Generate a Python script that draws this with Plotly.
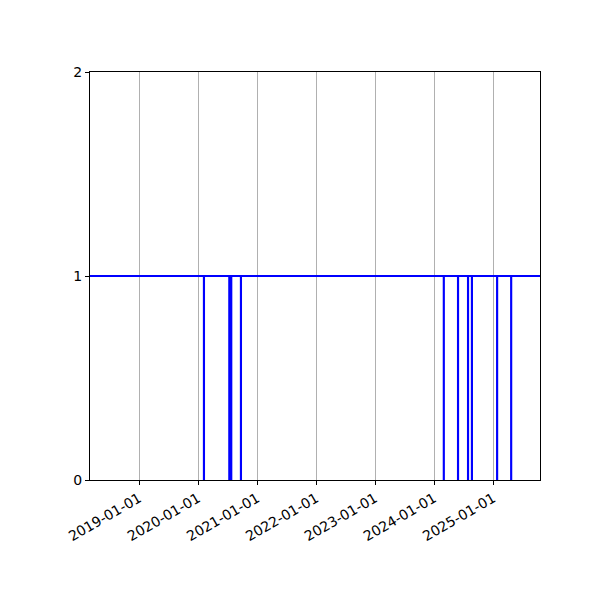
import plotly.graph_objects as go

# status series (1 = up, 0 = down), step-wise
dates = ['2018-03-03',
         '2020-02-06', '2020-02-07',
         '2020-07-12', '2020-07-13',
         '2020-07-24', '2020-07-25',
         '2020-09-22', '2020-09-23',
         '2024-03-01', '2024-03-02',
         '2024-05-28', '2024-05-29',
         '2024-07-29', '2024-07-30',
         '2024-08-22', '2024-08-23',
         '2025-01-25', '2025-01-26',
         '2025-04-22', '2025-04-23',
         '2025-10-18']
status = [1,
          0, 1,
          0, 1,
          0, 1,
          0, 1,
          0, 1,
          0, 1,
          0, 1,
          0, 1,
          0, 1,
          0, 1,
          1]

tick_dates = ['2019-01-01', '2020-01-01', '2021-01-01', '2022-01-01',
              '2023-01-01', '2024-01-01', '2025-01-01']
y_ticks = [0, 1, 2]

fig = go.Figure()
fig.add_trace(go.Scatter(
    x=dates, y=status, mode='lines',
    line=dict(color='#0000ff', width=2, shape='hv'),
    showlegend=False
))

# page is offset by the body margin, so shift the plot area back
fig.update_layout(
    width=600, height=600,
    margin=dict(l=82, r=68, t=64, b=128),
    paper_bgcolor='white', plot_bgcolor='white',
    font=dict(family='DejaVu Sans', size=14, color='black'),
    xaxis=dict(
        type='date', range=['2018-03-03', '2025-10-18'],
        tickvals=tick_dates, ticktext=tick_dates, tickangle=-30,
        showgrid=True, gridcolor='#b0b0b0', gridwidth=1,
        ticks='outside', ticklen=4, tickcolor='black',
        showline=True, linecolor='black', linewidth=1, mirror=True,
        zeroline=False
    ),
    yaxis=dict(
        range=[0, 2], tickvals=y_ticks,
        showgrid=False,
        ticks='outside', ticklen=4, tickcolor='black',
        showline=True, linecolor='black', linewidth=1, mirror=True,
        zeroline=False
    )
)

fig.write_html("out.html")
